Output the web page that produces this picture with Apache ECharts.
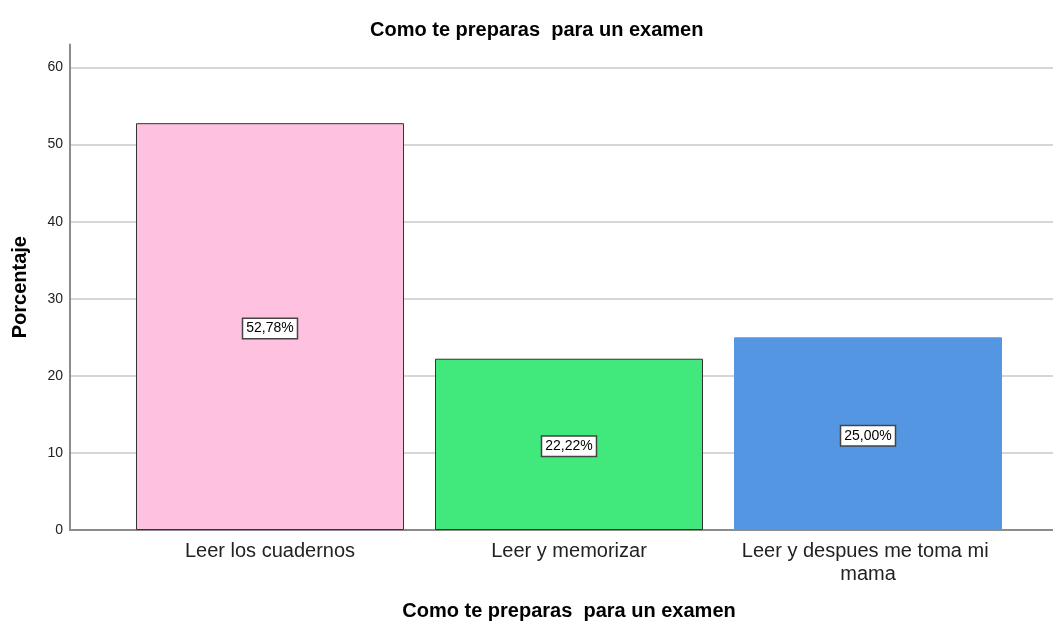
<!DOCTYPE html>
<html>
<head>
<meta charset="utf-8">
<script src="https://cdn.jsdelivr.net/npm/echarts@6/dist/echarts.min.js"></script>
<style>
  html, body { margin: 0; padding: 0; background: #fff; }
  #chart { width: 1053px; height: 622px; }
</style>
</head>
<body>
<div id="chart"></div>
<script>
var categories = ['Leer los cuadernos', 'Leer y memorizar', 'Leer y despues me toma mi mama'];
var percentages = [52.78, 22.22, 25.00];
var barColors = ['#fec1e0', '#41e97d', '#5596e3'];
var barBorders = ['#333333', '#333333', '#5596e3'];
var yTicks = [0, 10, 20, 30, 40, 50, 60];

var dom = document.getElementById('chart');
var myChart = echarts.init(dom, null, { renderer: 'canvas' });

var font = 'Liberation Sans, Arial, sans-serif';

var option = {
	textStyle: { fontFamily: font },
	title: {
		text: 'Como te preparas  para un examen',
		left: 365,
		top: 15,
		textStyle: { fontSize: 20, fontWeight: 'bold', color: '#000', fontFamily: font }
	},
	grid: [
		// axis lines
		{ left: 70, right: 0, top: 44.4, bottom: 92, outerBoundsMode: 'none', containLabel: false },
		// gridlines up to 60
		{ left: 70, right: 0, top: 67.5, bottom: 92, outerBoundsMode: 'none', containLabel: false },
		// bars
		{ left: 120.5, right: 35.5, top: 44.4, bottom: 92, outerBoundsMode: 'none', containLabel: false }
	],
	xAxis: [
		{
			gridIndex: 0, type: 'value', min: 0, max: 1,
			axisLine: { show: true, lineStyle: { color: '#8c8c8c', width: 2 } },
			axisTick: { show: false }, axisLabel: { show: false }, splitLine: { show: false }
		},
		{
			gridIndex: 1, type: 'value', min: 0, max: 1, show: false
		},
		{
			gridIndex: 2, type: 'category', data: categories,
			axisLine: { show: false }, axisTick: { show: false },
			axisLabel: {
				fontSize: 20, color: '#222', margin: 10, interval: 0,
				width: 270, overflow: 'break', lineHeight: 23, fontFamily: font
			},
			name: 'Como te preparas  para un examen',
			nameLocation: 'middle',
			nameGap: 71,
			nameMoveOverlap: false,
			nameTextStyle: { fontSize: 20, fontWeight: 'bold', color: '#000', fontFamily: font }
		}
	],
	yAxis: [
		{
			gridIndex: 0, type: 'value', min: 0, max: 63, interval: 10,
			axisLine: { show: true, lineStyle: { color: '#8c8c8c', width: 2 } },
			axisTick: { show: false },
			splitLine: { show: false },
			axisLabel: {
				fontSize: 14, color: '#222', margin: 7, fontFamily: font,
				formatter: function (v) { return yTicks.indexOf(v) >= 0 ? String(v) : ''; }
			},
			name: 'Porcentaje',
			nameLocation: 'middle',
			nameGap: 40,
			nameMoveOverlap: false,
			nameTextStyle: { fontSize: 20, fontWeight: 'bold', color: '#000', fontFamily: font }
		},
		{
			gridIndex: 1, type: 'value', min: 0, max: 60, interval: 10,
			axisLine: { show: false }, axisTick: { show: false }, axisLabel: { show: false },
			splitLine: { show: true, lineStyle: { color: '#c8c8c8', width: 1.5 } }
		},
		{
			gridIndex: 2, type: 'value', min: 0, max: 63, show: false
		}
	],
	series: [
		{
			type: 'bar',
			xAxisIndex: 2,
			yAxisIndex: 2,
			barWidth: 268,
			data: percentages.map(function (v, i) {
				return {
					value: v,
					itemStyle: { color: barColors[i], borderColor: barBorders[i], borderWidth: 1 }
				};
			}),
			label: {
				show: true,
				position: 'inside',
				offset: [0, 2],
				fontSize: 14,
				color: '#000',
				fontFamily: font,
				backgroundColor: '#fff',
				borderColor: '#444',
				borderWidth: 1.5,
				padding: [3, 3, 2, 3],
				formatter: function (p) { return p.value.toFixed(2).replace('.', ',') + '%'; }
			}
		}
	]
};

if (option && typeof option === 'object') {
	myChart.setOption(option);
}
window.addEventListener('resize', myChart.resize);
</script>
</body>
</html>
